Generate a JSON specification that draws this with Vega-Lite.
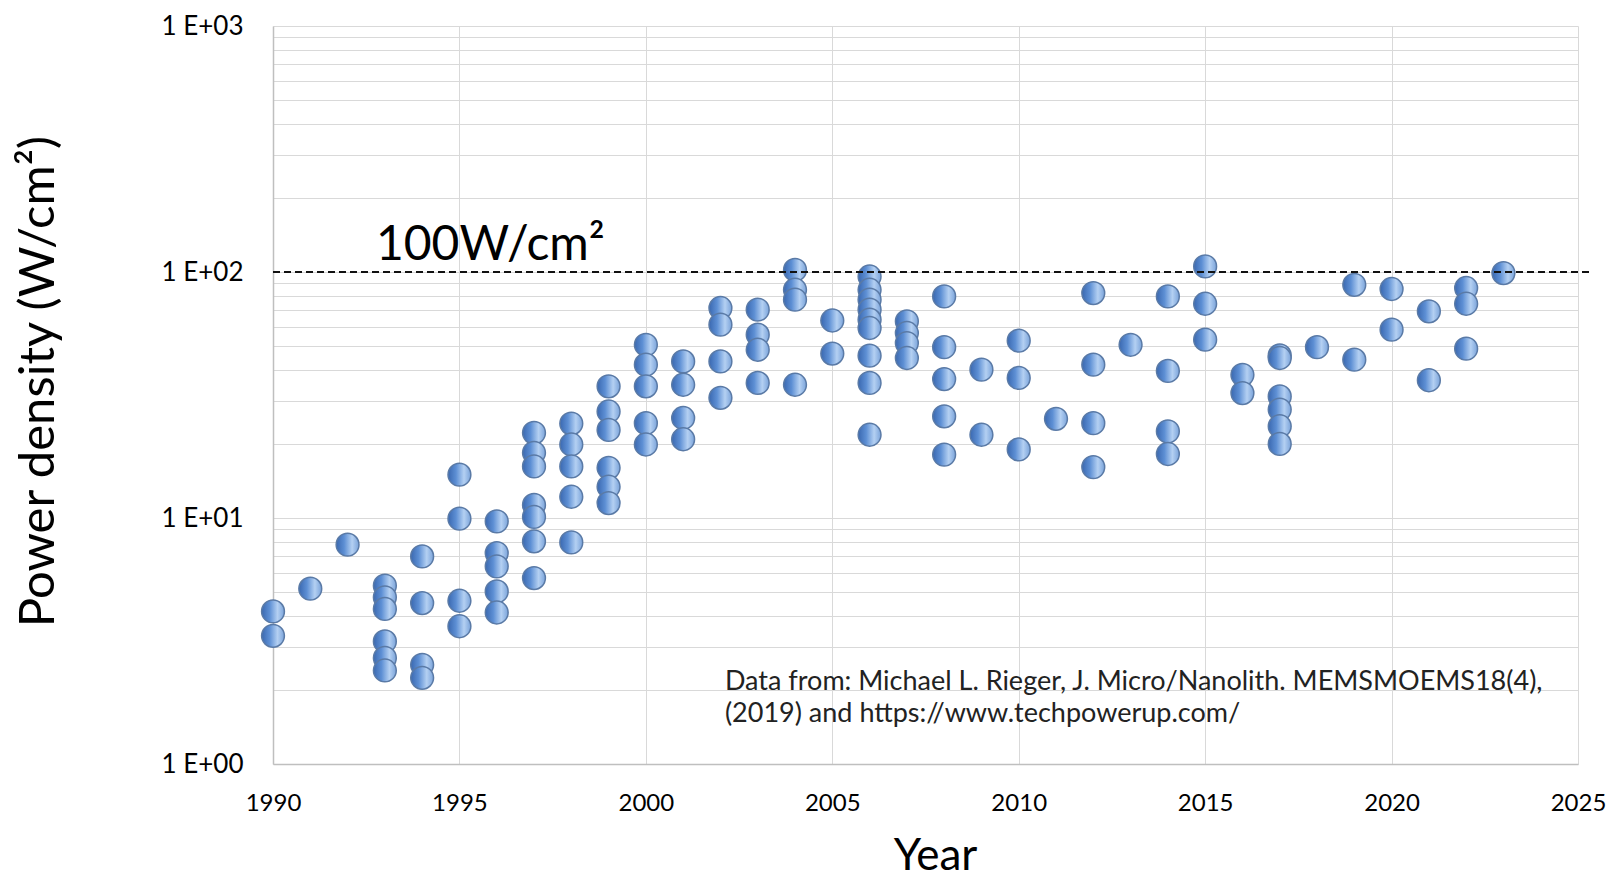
{
  "$schema": "https://vega.github.io/schema/vega-lite/v6.json",
  "width": 1305,
  "height": 738,
  "autosize": {"type": "none"},
  "padding": {"left": 273, "top": 26, "right": 36, "bottom": 116},
  "background": "white",
  "config": {"view": {"stroke": null}, "font": "Lato"},
  "datasets": {
    "cpus": [
      {"year": 1990, "power": 4.17}, {"year": 1990, "power": 3.32},
      {"year": 1991, "power": 5.16},
      {"year": 1992, "power": 7.79},
      {"year": 1993, "power": 5.31}, {"year": 1993, "power": 4.76}, {"year": 1993, "power": 4.27}, {"year": 1993, "power": 3.15}, {"year": 1993, "power": 2.70}, {"year": 1993, "power": 2.40},
      {"year": 1994, "power": 6.98}, {"year": 1994, "power": 4.51}, {"year": 1994, "power": 2.53}, {"year": 1994, "power": 2.24},
      {"year": 1995, "power": 15.0}, {"year": 1995, "power": 9.94}, {"year": 1995, "power": 4.61}, {"year": 1995, "power": 3.63},
      {"year": 1996, "power": 9.69}, {"year": 1996, "power": 7.20}, {"year": 1996, "power": 6.36}, {"year": 1996, "power": 5.03}, {"year": 1996, "power": 4.13},
      {"year": 1997, "power": 22.2}, {"year": 1997, "power": 18.4}, {"year": 1997, "power": 16.2}, {"year": 1997, "power": 11.3}, {"year": 1997, "power": 10.1}, {"year": 1997, "power": 8.04}, {"year": 1997, "power": 5.70},
      {"year": 1998, "power": 24.2}, {"year": 1998, "power": 19.9}, {"year": 1998, "power": 16.2}, {"year": 1998, "power": 12.2}, {"year": 1998, "power": 7.96},
      {"year": 1999, "power": 34.3}, {"year": 1999, "power": 27.1}, {"year": 1999, "power": 22.8}, {"year": 1999, "power": 16.0}, {"year": 1999, "power": 13.4}, {"year": 1999, "power": 11.5},
      {"year": 2000, "power": 50.6}, {"year": 2000, "power": 42.0}, {"year": 2000, "power": 34.3}, {"year": 2000, "power": 24.3}, {"year": 2000, "power": 19.9},
      {"year": 2001, "power": 43.3}, {"year": 2001, "power": 34.8}, {"year": 2001, "power": 25.5}, {"year": 2001, "power": 20.9},
      {"year": 2002, "power": 71.4}, {"year": 2002, "power": 61.1}, {"year": 2002, "power": 43.3}, {"year": 2002, "power": 30.8},
      {"year": 2003, "power": 70.3}, {"year": 2003, "power": 55.6}, {"year": 2003, "power": 48.3}, {"year": 2003, "power": 35.4},
      {"year": 2004, "power": 102}, {"year": 2004, "power": 84.7}, {"year": 2004, "power": 77.2}, {"year": 2004, "power": 34.8},
      {"year": 2005, "power": 63.5}, {"year": 2005, "power": 46.6},
      {"year": 2006, "power": 95.9}, {"year": 2006, "power": 84.7}, {"year": 2006, "power": 77.2}, {"year": 2006, "power": 70.3}, {"year": 2006, "power": 64.0}, {"year": 2006, "power": 59.2}, {"year": 2006, "power": 45.7}, {"year": 2006, "power": 35.4}, {"year": 2006, "power": 21.8},
      {"year": 2007, "power": 63.0}, {"year": 2007, "power": 56.5}, {"year": 2007, "power": 51.4}, {"year": 2007, "power": 44.7},
      {"year": 2008, "power": 79.6}, {"year": 2008, "power": 49.5}, {"year": 2008, "power": 36.7}, {"year": 2008, "power": 25.9}, {"year": 2008, "power": 18.1},
      {"year": 2009, "power": 40.1}, {"year": 2009, "power": 21.8},
      {"year": 2010, "power": 52.6}, {"year": 2010, "power": 37.1}, {"year": 2010, "power": 19.0},
      {"year": 2011, "power": 25.3},
      {"year": 2012, "power": 82.1}, {"year": 2012, "power": 42.0}, {"year": 2012, "power": 24.3}, {"year": 2012, "power": 16.1},
      {"year": 2013, "power": 50.6},
      {"year": 2014, "power": 79.6}, {"year": 2014, "power": 39.6}, {"year": 2014, "power": 22.5}, {"year": 2014, "power": 18.2},
      {"year": 2015, "power": 105.4}, {"year": 2015, "power": 74.3}, {"year": 2015, "power": 53.1},
      {"year": 2016, "power": 38.2}, {"year": 2016, "power": 32.2},
      {"year": 2017, "power": 45.8}, {"year": 2017, "power": 44.7}, {"year": 2017, "power": 31.2}, {"year": 2017, "power": 27.6}, {"year": 2017, "power": 23.6}, {"year": 2017, "power": 20.0},
      {"year": 2018, "power": 49.5},
      {"year": 2019, "power": 88.7}, {"year": 2019, "power": 44.0},
      {"year": 2020, "power": 85.3}, {"year": 2020, "power": 58.3},
      {"year": 2021, "power": 69.2}, {"year": 2021, "power": 36.3},
      {"year": 2022, "power": 86.1}, {"year": 2022, "power": 74.3}, {"year": 2022, "power": 48.8},
      {"year": 2023, "power": 99.0}
    ]
  },
  "layer": [
    {
      "data": {"name": "cpus"},
      "mark": {
        "type": "point",
        "shape": "circle",
        "filled": true,
        "size": 520,
        "opacity": 1,
        "fillOpacity": 1,
        "fill": {
          "gradient": "linear",
          "x1": 0, "y1": 0, "x2": 1, "y2": 0,
          "stops": [
            {"offset": 0, "color": "#3a68b0"},
            {"offset": 0.35, "color": "#5d8fd4"},
            {"offset": 0.7, "color": "#b4d0f2"},
            {"offset": 1, "color": "#7aa3da"}
          ]
        },
        "stroke": "#5a7aa6",
        "strokeWidth": 1.5
      },
      "encoding": {
        "x": {
          "field": "year",
          "type": "quantitative",
          "scale": {"domain": [1990, 2025], "nice": false, "zero": false},
          "axis": {
            "values": [1990, 1995, 2000, 2005, 2010, 2015, 2020, 2025],
            "format": "d",
            "title": "Year",
            "grid": true,
            "gridColor": "#d9d9d9",
            "gridWidth": 1,
            "domainColor": "#bfbfbf",
            "domainWidth": 1.5,
            "ticks": false,
            "labelPadding": 27,
            "labelFontSize": 24,
            "labelFont": "Lato",
            "labelColor": "#000000",
            "labelFlush": false,
            "labelOverlap": false,
            "titleFont": "Lato",
            "titleFontSize": 44,
            "titleFontWeight": "normal",
            "titleColor": "#000000",
            "titleX": 662,
            "titleY": 92,
            "titleBaseline": "middle",
            "titleAlign": "center"
          }
        },
        "y": {
          "field": "power",
          "type": "quantitative",
          "scale": {"type": "log", "domain": [1, 1000], "nice": false},
          "axis": {
            "values": [1, 2, 3, 4, 5, 6, 7, 8, 9, 10, 20, 30, 40, 50, 60, 70, 80, 90, 100, 200, 300, 400, 500, 600, 700, 800, 900, 1000],
            "labelExpr": "indexof([1, 10, 100, 1000], datum.value) >= 0 ? '1 E+0' + round(log(datum.value) / LN10) : ''",
            "title": "Power density (W/cm²)",
            "grid": true,
            "gridColor": "#d9d9d9",
            "gridWidth": 1,
            "domainColor": "#bfbfbf",
            "domainWidth": 1.5,
            "ticks": false,
            "labelPadding": 30,
            "labelFontSize": 26,
            "labelFont": "Lato",
            "labelColor": "#000000",
            "labelOverlap": false,
            "labelFlush": false,
            "titleFont": "Lato",
            "titleFontSize": 49,
            "titleFontWeight": "normal",
            "titleColor": "#000000",
            "titleAngle": -90,
            "titleX": -235,
            "titleY": 355,
            "titleAlign": "center",
            "titleBaseline": "middle"
          }
        }
      }
    },
    {
      "data": {"values": [{}]},
      "mark": {"type": "rule", "strokeDash": [7, 4], "strokeWidth": 2, "color": "#111111", "clip": false},
      "encoding": {
        "x": {"datum": 1990, "type": "quantitative"},
        "x2": {"datum": 2025.33},
        "y": {"datum": 100, "type": "quantitative"}
      }
    },
    {
      "data": {"values": [{}]},
      "mark": {"type": "text", "text": "100W/cm²", "align": "left", "baseline": "alphabetic", "dy": -12, "fontSize": 48, "font": "Lato", "color": "#000000"},
      "encoding": {
        "x": {"datum": 1992.76, "type": "quantitative"},
        "y": {"datum": 100, "type": "quantitative"}
      }
    },
    {
      "data": {"values": [{}]},
      "mark": {
        "type": "text",
        "text": ["Data from: Michael L. Rieger, J. Micro/Nanolith. MEMSMOEMS18(4),", "(2019) and https://www.techpowerup.com/"],
        "align": "left",
        "baseline": "middle",
        "fontSize": 27,
        "lineHeight": 32,
        "font": "Lato",
        "color": "#222222"
      },
      "encoding": {
        "x": {"datum": 2002.12, "type": "quantitative"},
        "y": {"datum": 2.16, "type": "quantitative"}
      }
    }
  ]
}
